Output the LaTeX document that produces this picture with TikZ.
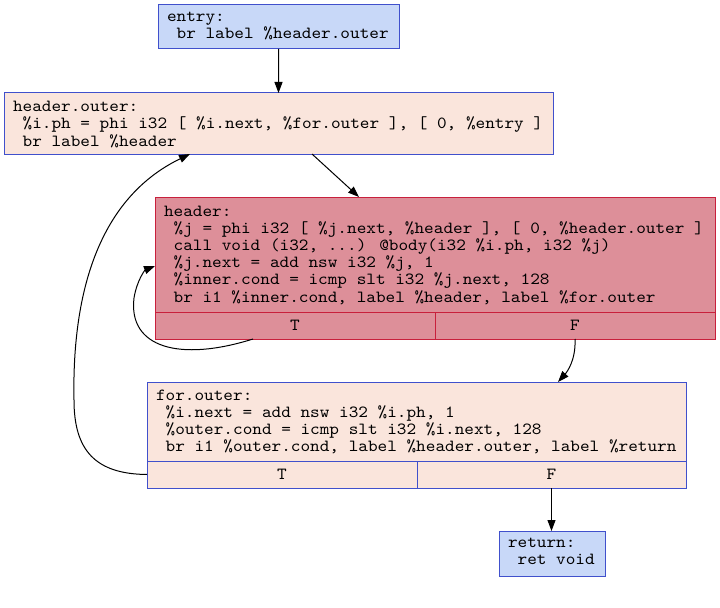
\documentclass[tikz,border=0pt]{standalone}
\usepackage{fontspec}
\newfontfamily\codefam[FakeStretch=1.08]{lmmono10-regular.otf}
\usetikzlibrary{arrows.meta,calc}
\definecolor{bluefill}{RGB}{200,216,248}
\definecolor{blueline}{RGB}{64,80,204}
\definecolor{peach}{RGB}{250,229,220}
\definecolor{redfill}{RGB}{221,143,153}
\definecolor{redline}{RGB}{200,32,60}
\newcommand{\codefont}{\codefam\fontsize{17bp}{17.2bp}\selectfont}
\newcommand{\fl}{\rule{0pt}{14bp}}
\tikzset{
  blk/.style={draw, line width=1bp, rectangle, inner sep=0pt, outer sep=0pt, anchor=north west},
  bluebox/.style={blk, draw=blueline, fill=bluefill},
  peachbox/.style={blk, draw=blueline, fill=peach},
  redbox/.style={blk, draw=redline, fill=redfill},
  txt/.style={anchor=north west, inner sep=0pt, outer sep=0pt, align=left, font=\codefont},
  cell/.style={font=\codefont, inner sep=0pt},
  edge/.style={line width=1bp, -{Triangle[length=11bp,width=8bp]}}
}
\begin{document}
\begin{tikzpicture}[x=1bp,y=-1bp]
\useasboundingbox (0,0) rectangle (720,608);
% entry
\node[bluebox, minimum width=241bp, minimum height=44bp] (entry) at (158,5) {};
\node[txt] (entryt) at (167,7.5) {\fl entry:\\\ br label \%header.outer};
% header.outer
\node[peachbox, minimum width=549bp, minimum height=61bp] (hout) at (4,93) {};
\node[txt] (houtt) at (13,97.7) {\fl header.outer:\\\ \%i.ph = phi i32 [ \%i.next, \%for.outer ], [ 0, \%entry ]\\\ br label \%header};
% header
\node[redbox, minimum width=560bp, minimum height=115bp] (hdr) at (155,197) {};
\node[redbox, minimum width=280bp, minimum height=27bp] (hdrT) at (155,312) {};
\node[redbox, minimum width=280bp, minimum height=27bp] (hdrF) at (435,312) {};
\node[cell] (hdrTl) at (hdrT.center) {T};
\node[cell] (hdrFl) at (hdrF.center) {F};
\node[txt] (hdrt) at (164,202) {\fl header:\\\ \%j = phi i32 [ \%j.next, \%header ], [ 0, \%header.outer ]\\\ call void (i32, ...) @body(i32 \%i.ph, i32 \%j)\\\ \%j.next = add nsw i32 \%j, 1\\\ \%inner.cond = icmp slt i32 \%j.next, 128\\\ br i1 \%inner.cond, label \%header, label \%for.outer};
% for.outer
\node[peachbox, minimum width=539bp, minimum height=79bp] (fo) at (147,382) {};
\node[peachbox, minimum width=270bp, minimum height=27bp] (foT) at (147,461) {};
\node[peachbox, minimum width=269bp, minimum height=27bp] (foF) at (417,461) {};
\node[cell] (foTl) at (foT.center) {T};
\node[cell] (foFl) at (foF.center) {F};
\node[txt] (fot) at (156,386) {\fl for.outer:\\\ \%i.next = add nsw i32 \%i.ph, 1\\\ \%outer.cond = icmp slt i32 \%i.next, 128\\\ br i1 \%outer.cond, label \%header.outer, label \%return};
% return
\node[bluebox, minimum width=106bp, minimum height=45bp] (ret) at (499,531) {};
\node[txt] (rett) at (508,533) {\fl return:\\\ ret void};
% edges
\draw[edge] (entry.south) -- (hout.north);
\draw[edge] ($(hout.south west)+(308,0)$) -- ($(hdr.north west)+(204,0)$);
\draw[edge] ($(hdrT.south west)+(98,0)$) .. controls (180,362) and (128,348) .. (134,298) .. controls (137,280) and (145,270) .. ($(hdr.north west)+(0,69)$);
\draw[edge] ($(hdrF.south west)+(140,0)$) .. controls (576,360) and (567,372) .. ($(fo.north west)+(411,0)$);
\draw[edge] (foT.west) .. controls (95,474) and (74,450) .. (74,400) .. controls (72,300) and (95,200) .. ($(hout.south west)+(186,0)$);
\draw[edge] (foF.south) -- (foF.south |- ret.north);
\end{tikzpicture}
\end{document}
